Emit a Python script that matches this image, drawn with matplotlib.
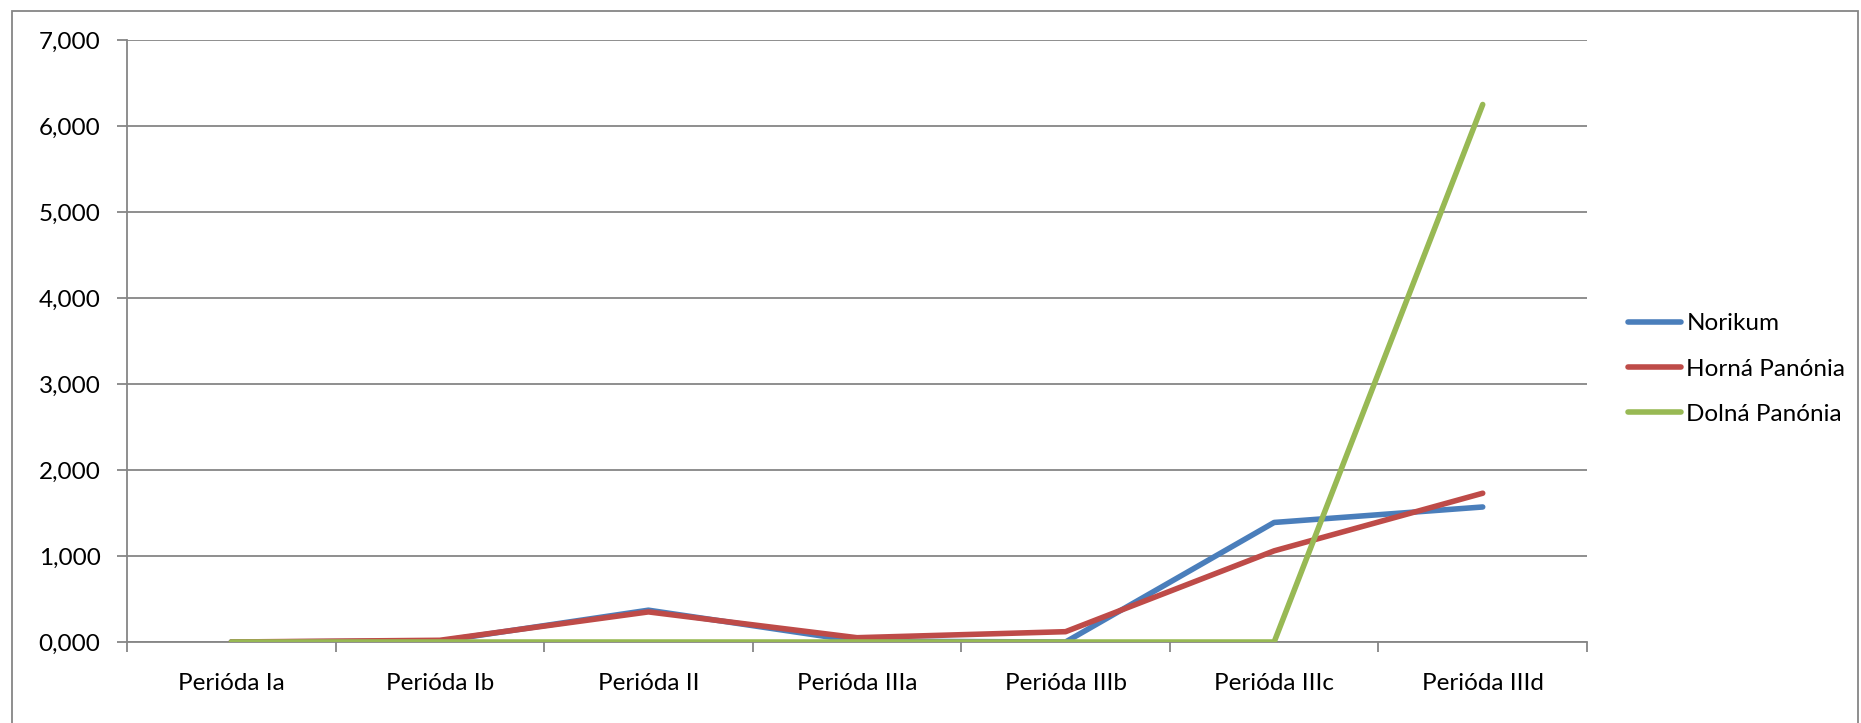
import matplotlib.pyplot as plt
from matplotlib.patches import Rectangle
from matplotlib.ticker import FuncFormatter, MultipleLocator
import numpy as np

categories = ["Perióda Ia", "Perióda Ib", "Perióda II", "Perióda IIIa",
              "Perióda IIIb", "Perióda IIIc", "Perióda IIId"]
norikum = [0.0, 0.01, 0.37, 0.01, 0.0, 1.39, 1.57]
horna_panonia = [0.0, 0.02, 0.35, 0.05, 0.12, 1.06, 1.73]
dolna_panonia = [0.0, 0.0, 0.0, 0.0, 0.0, 0.0, 6.25]
series_names = ["Norikum", "Horná Panónia", "Dolná Panónia"]
series_colors = ["#4A7EBB", "#BE4B48", "#98B954"]

plt.rcParams["font.family"] = ["Lato", "DejaVu Sans"]
fs = 17.5

fig = plt.figure(figsize=(18.61, 7.23), dpi=100)
ax = fig.add_axes([127 / 1861, 1 - 642 / 723, 1460 / 1861, 602 / 723])

x = np.arange(len(categories))
for vals, name, col in zip([norikum, horna_panonia, dolna_panonia], series_names, series_colors):
    ax.plot(x, vals, color=col, lw=4.0, label=name, solid_capstyle="round", zorder=3)

ax.set_xlim(-0.5, len(categories) - 0.5)
ax.set_ylim(0, 7)
ax.yaxis.set_major_locator(MultipleLocator(1))
ax.yaxis.set_major_formatter(FuncFormatter(lambda v, p: f"{v:.3f}".replace(".", ",")))
ax.grid(axis="y", color="#868686", lw=1.3, zorder=0)

ax.set_xticks(x)
ax.set_xticklabels(categories)
ax.set_xticks(np.arange(-0.5, len(categories)), minor=True)
ax.tick_params(axis="x", which="major", length=0, pad=22, labelsize=fs)
ax.tick_params(axis="x", which="minor", length=7, width=1.3, color="#868686")
ax.tick_params(axis="y", length=7, width=1.3, color="#868686", labelsize=fs, pad=12)

ax.spines["top"].set_visible(False)
ax.spines["right"].set_visible(False)
ax.spines["left"].set_color("#868686")
ax.spines["bottom"].set_color("#868686")
ax.spines["left"].set_linewidth(1.3)
ax.spines["bottom"].set_linewidth(1.3)

fig.legend(loc="center left", bbox_to_anchor=(1628 / 1861, 1 - 369 / 723),
           frameon=False, fontsize=fs, handlelength=2.2, handletextpad=0.2,
           labelspacing=1.0, borderpad=0, borderaxespad=0)

fig.patches.append(Rectangle((12 / 1861, -0.01), 1846 / 1861, 1 - 11 / 723 + 0.01,
                             transform=fig.transFigure, fill=False,
                             edgecolor="#868686", lw=1.3))

fig.savefig("out.png", dpi=100)
